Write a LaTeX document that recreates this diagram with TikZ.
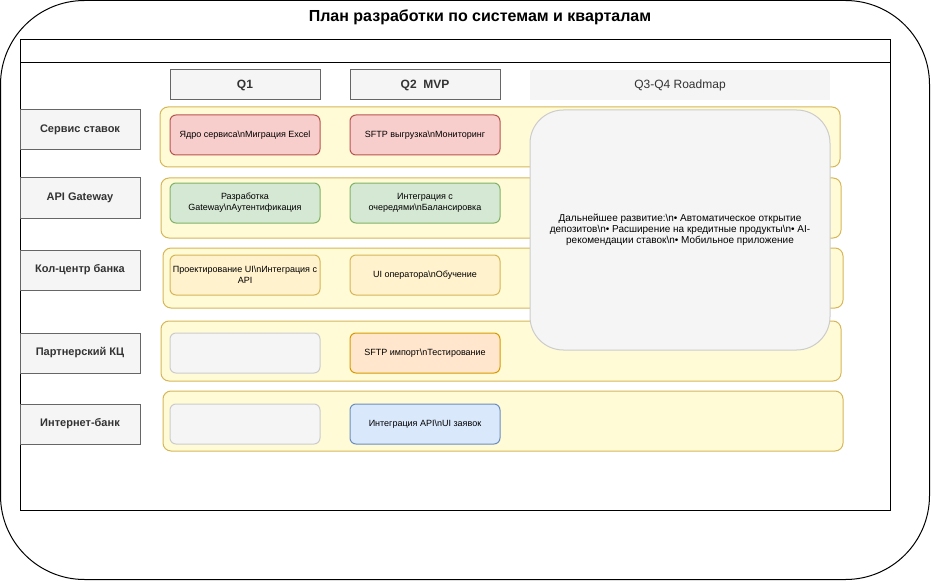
\documentclass[tikz,border=0pt]{standalone}
\usepackage{fontspec}
\setmainfont{Liberation Sans}
\definecolor{redfill}{HTML}{F8CECC}\definecolor{rededge}{HTML}{B85450}
\definecolor{greenfill}{HTML}{D5E8D4}\definecolor{greenedge}{HTML}{82B366}
\definecolor{yelfill}{HTML}{FFF2CC}\definecolor{yeledge}{HTML}{D6B656}
\definecolor{orfill}{HTML}{FFE6CC}\definecolor{oredge}{HTML}{D79B00}
\definecolor{bluefill}{HTML}{DAE8FC}\definecolor{blueedge}{HTML}{6C8EBF}
\definecolor{grayfill}{HTML}{F5F5F5}\definecolor{grayedge}{HTML}{CCCCCC}
\definecolor{hdredge}{HTML}{666666}\definecolor{txtgray}{HTML}{333333}
\definecolor{lanefill}{HTML}{FFFBD6}\definecolor{laneedge}{HTML}{D6B656}
\newcommand{\mybox}[7]{\node[#6, minimum width={(#4-#2)*0.75pt}, minimum height={(#5-#3)*0.75pt}] (#1) at ({(#2+#4)/2},{(#3+#5)/2}) {#7};}
\tikzset{
  base/.style={draw, line width=0.75pt, align=center, inner sep=1pt, font=\fontsize{6.75}{8.25}\selectfont},
  frame/.style={draw=black, line width=0.75pt, inner sep=0pt},
  header/.style={base, fill=grayfill, draw=hdredge, text=txtgray, font=\bfseries\fontsize{9}{11}\selectfont},
  rowlabel/.style={base, fill=grayfill, draw=hdredge, text=txtgray, font=\bfseries\fontsize{8.25}{10}\selectfont},
  roadhdr/.style={base, fill=grayfill, draw=none, text=txtgray, font=\fontsize{9}{11}\selectfont},
  lane/.style={base, fill=lanefill, draw=laneedge, rounded corners=6pt},
  task/.style={base, rounded corners=4.5pt},
  redtask/.style={task, fill=redfill, draw=rededge},
  greentask/.style={task, fill=greenfill, draw=greenedge},
  yeltask/.style={task, fill=yelfill, draw=yeledge},
  ortask/.style={task, fill=orfill, draw=oredge},
  bluetask/.style={task, fill=bluefill, draw=blueedge},
  emptytask/.style={task, fill=grayfill, draw=grayedge},
  roadmap/.style={base, fill=grayfill, draw=grayedge, rounded corners=25pt, font=\fontsize{7.5}{8.4}\selectfont}
}
\begin{document}
\begin{tikzpicture}[x=0.75pt,y=-0.75pt]
\useasboundingbox (0,0) rectangle (931,581);
% outer frame
\mybox{outer}{0.5}{0.5}{929.5}{579.5}{frame, rounded corners=63pt}{}
\node[font=\bfseries\fontsize{12}{14}\selectfont] (title) at (480,17) {План разработки по системам и кварталам};
% pool
\mybox{pool}{20}{40}{890}{510}{frame}{}
\mybox{poolhead}{20}{40}{890}{63}{frame}{}
% quarter headers
\mybox{q1}{170}{70}{320}{100}{header}{Q1}
\mybox{q2}{350}{70}{500}{100}{header}{Q2\ \ MVP}
\mybox{q34}{530}{70}{830}{100}{roadhdr}{Q3-Q4 Roadmap}
% row labels
\mybox{r1}{20}{110}{140}{150}{rowlabel}{Сервис ставок}
\mybox{r2}{20}{178}{140}{218}{rowlabel}{API Gateway}
\mybox{r3}{20}{250}{140}{290}{rowlabel}{Кол-центр банка}
\mybox{r4}{20}{333}{140}{373}{rowlabel}{Партнерский КЦ}
\mybox{r5}{20}{404}{140}{444}{rowlabel}{Интернет-банк}
% lanes
\mybox{l1}{160}{107}{840}{167}{lane}{}
\mybox{l2}{161}{178}{841}{238}{lane}{}
\mybox{l3}{163}{248}{843}{308}{lane}{}
\mybox{l4}{161}{321}{841}{381}{lane}{}
\mybox{l5}{163}{391}{843}{451}{lane}{}
% tasks
\mybox{t11}{170}{115}{320}{155}{redtask}{Ядро сервиса\textbackslash nМиграция Excel}
\mybox{t12}{350}{115}{500}{155}{redtask}{SFTP выгрузка\textbackslash nМониторинг}
\mybox{t21}{170}{183}{320}{223}{greentask}{Разработка\\Gateway\textbackslash nАутентификация}
\mybox{t22}{350}{183}{500}{223}{greentask}{Интеграция с\\очередями\textbackslash nБалансировка}
\mybox{t31}{170}{255}{320}{295}{yeltask}{Проектирование UI\textbackslash nИнтеграция с\\API}
\mybox{t32}{350}{255}{500}{295}{yeltask}{UI оператора\textbackslash nОбучение}
\mybox{t41}{170}{333}{320}{373}{emptytask}{}
\mybox{t42}{350}{333}{500}{373}{ortask}{SFTP импорт\textbackslash nТестирование}
\mybox{t51}{170}{404}{320}{444}{emptytask}{}
\mybox{t52}{350}{404}{500}{444}{bluetask}{Интеграция API\textbackslash nUI заявок}
% roadmap
\mybox{rm}{530}{110}{830}{350}{roadmap}{Дальнейшее развитие:\textbackslash n• Автоматическое открытие\\депозитов\textbackslash n• Расширение на кредитные продукты\textbackslash n• AI-\\рекомендации ставок\textbackslash n• Мобильное приложение}
\end{tikzpicture}
\end{document}
